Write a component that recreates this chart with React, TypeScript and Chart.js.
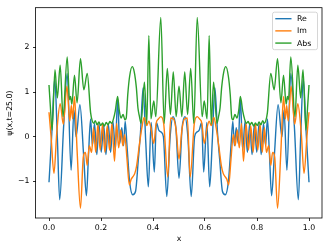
import React, { useEffect, useRef } from 'react';
import { Chart, registerables } from 'chart.js';

Chart.register(...registerables);

// Re(psi)
const reX = [0.000,0.011,0.022,0.032,0.041,0.056,0.070,0.085,0.096,0.104,0.119,0.133,0.144,0.152,0.160,0.167,0.175,0.184,0.192,0.201,0.210,0.219,0.228,0.237,0.246,0.255,0.264,0.272,0.280,0.287,0.293,0.300,0.310,0.322,0.333,0.343,0.352,0.362,0.372,0.382,0.393,0.405,0.413,0.422,0.432,0.440,0.453,0.466,0.477,0.488,0.500,
  0.512,0.523,0.534,0.547,0.560,0.568,0.578,0.587,0.595,0.607,0.618,0.628,0.638,0.648,0.657,0.667,0.678,0.690,0.700,0.707,0.713,0.720,0.728,0.736,0.745,0.754,0.763,0.772,0.781,0.790,0.799,0.808,0.816,0.825,0.833,0.840,0.848,0.856,0.867,0.881,0.896,0.904,0.915,0.930,0.944,0.959,0.968,0.978,0.989,1.000];
const reY = [-1.02,0.10,1.30,0.00,-1.41,0.20,1.42,-0.75,0.60,0.00,0.72,-0.40,-1.32,-0.40,0.40,-0.20,0.30,-0.40,0.30,-0.35,0.28,-0.40,0.30,-0.35,0.35,-0.30,0.85,-0.15,0.20,-0.20,0.35,-0.20,-1.00,-1.30,-1.22,-0.55,0.10,1.10,-0.10,-1.12,0.32,-0.79,0.32,0.15,0.10,0.00,-1.34,0.00,0.45,0.20,-0.93,
  0.20,0.45,0.00,-1.34,0.00,0.10,0.15,0.32,-0.79,0.32,-1.12,-0.10,1.10,0.10,-0.55,-1.22,-1.30,-1.00,-0.20,0.35,-0.20,0.20,-0.15,0.85,-0.30,0.35,-0.35,0.30,-0.40,0.28,-0.35,0.30,-0.40,0.30,-0.20,0.40,-0.40,-1.32,-0.40,0.72,0.00,0.60,-0.75,1.42,0.20,-1.41,0.00,1.30,0.10,-1.02];

// Im(psi)
const imX = [0.000,0.008,0.019,0.030,0.043,0.055,0.069,0.080,0.086,0.091,0.098,0.108,0.121,0.132,0.140,0.147,0.155,0.164,0.171,0.180,0.188,0.197,0.206,0.215,0.224,0.233,0.242,0.252,0.260,0.268,0.276,0.284,0.291,0.300,0.309,0.316,0.322,0.330,0.337,0.348,0.357,0.366,0.376,0.384,0.392,0.403,0.412,0.421,0.430,0.441,0.457,0.468,0.479,0.489,0.500,
  0.511,0.521,0.532,0.543,0.559,0.570,0.579,0.588,0.597,0.608,0.616,0.624,0.634,0.643,0.652,0.663,0.670,0.678,0.684,0.691,0.700,0.709,0.716,0.724,0.732,0.740,0.748,0.758,0.767,0.776,0.785,0.794,0.803,0.812,0.820,0.829,0.836,0.845,0.853,0.860,0.868,0.879,0.892,0.902,0.909,0.914,0.920,0.931,0.945,0.957,0.970,0.981,0.992,1.000];
const imY = [0.55,0.00,-0.82,0.10,0.74,0.28,1.13,0.35,0.70,0.40,0.90,-0.30,-1.60,-0.45,-0.35,-0.64,-0.20,-0.35,0.20,-0.35,0.28,-0.30,0.28,-0.35,0.25,-0.30,0.30,-0.55,0.30,-0.25,0.15,-0.20,0.05,-0.50,-1.08,-0.95,-0.90,-0.82,-0.65,-0.16,0.20,0.43,0.25,0.35,0.20,-0.15,0.30,0.40,0.45,0.30,-0.90,0.42,0.40,0.15,-0.50,
  0.15,0.40,0.42,-0.90,0.30,0.45,0.40,0.30,-0.15,0.20,0.35,0.25,0.43,0.20,-0.16,-0.65,-0.82,-0.90,-0.95,-1.08,-0.50,0.05,-0.20,0.15,-0.25,0.30,-0.55,0.30,-0.30,0.25,-0.35,0.28,-0.30,0.28,-0.35,0.20,-0.35,-0.20,-0.64,-0.35,-0.45,-1.60,-0.30,0.90,0.40,0.70,0.35,1.13,0.28,0.74,0.10,-0.82,0.00,0.55];

// |psi|
const absX = [0.000,0.005,0.012,0.023,0.032,0.043,0.054,0.070,0.079,0.083,0.088,0.098,0.108,0.121,0.134,0.147,0.160,0.166,0.172,0.178,0.185,0.192,0.199,0.206,0.213,0.220,0.227,0.234,0.241,0.248,0.255,0.264,0.270,0.277,0.285,0.292,0.297,0.303,0.310,0.320,0.328,0.336,0.342,0.348,0.354,0.367,0.376,0.384,0.392,0.403,0.411,0.430,0.443,0.455,0.467,0.478,0.489,0.500,
  0.511,0.522,0.533,0.545,0.557,0.570,0.589,0.597,0.608,0.616,0.624,0.633,0.646,0.652,0.658,0.664,0.672,0.680,0.690,0.697,0.703,0.708,0.715,0.723,0.730,0.736,0.745,0.752,0.759,0.766,0.773,0.780,0.787,0.794,0.801,0.808,0.815,0.822,0.828,0.834,0.840,0.853,0.866,0.879,0.892,0.902,0.912,0.917,0.921,0.930,0.946,0.957,0.968,0.977,0.988,0.995,1.000];
const absY = [1.16,0.70,0.15,1.50,0.87,1.60,0.45,1.79,0.83,0.90,0.73,1.38,0.76,1.75,1.05,1.42,0.54,0.36,0.30,0.36,0.27,0.33,0.25,0.31,0.24,0.32,0.27,0.34,0.30,0.40,0.58,0.90,0.60,0.42,0.50,0.38,0.42,0.95,1.35,1.57,1.45,1.10,0.65,0.45,0.30,1.22,0.28,2.27,0.40,0.80,0.45,2.67,0.30,1.53,0.50,1.45,0.45,1.13,
  0.45,1.45,0.50,1.53,0.30,2.67,0.45,0.80,0.40,2.27,0.28,1.22,0.30,0.45,0.65,1.10,1.45,1.57,1.35,0.95,0.42,0.38,0.50,0.42,0.60,0.90,0.58,0.40,0.30,0.34,0.27,0.32,0.24,0.31,0.25,0.33,0.27,0.36,0.30,0.36,0.54,1.42,1.05,1.75,0.76,1.38,0.73,0.90,0.83,1.79,0.45,1.60,0.87,1.50,0.15,0.70,1.16];

const seriesNames = ['Re', 'Im', 'Abs'];
const seriesColors = ['#1f77b4', '#ff7f0e', '#2ca02c'];
const xTicks = [0.0, 0.2, 0.4, 0.6, 0.8, 1.0];
const yTicks = [-1, 0, 1, 2];
const xLabel = 'x';
const yLabel = 'ψ(x,t=25.0)';

const FONT = '"DejaVu Sans", sans-serif';
const FS = 7.8;

const frameLegend = {
  id: 'frameLegend',
  afterDraw(chart: any) {
    const { ctx, chartArea: a } = chart;
    ctx.save();
    ctx.strokeStyle = '#000';
    ctx.lineWidth = 0.8;
    ctx.strokeRect(a.left - 0.5, a.top - 0.5, a.right - a.left + 0.5, a.bottom - a.top + 0.5);

    const w = 45, h = 37.5;
    const bx = a.right - 4.5 - w;
    const by = a.top + 4;
    const r = 2;
    ctx.beginPath();
    ctx.moveTo(bx + r, by);
    ctx.lineTo(bx + w - r, by);
    ctx.quadraticCurveTo(bx + w, by, bx + w, by + r);
    ctx.lineTo(bx + w, by + h - r);
    ctx.quadraticCurveTo(bx + w, by + h, bx + w - r, by + h);
    ctx.lineTo(bx + r, by + h);
    ctx.quadraticCurveTo(bx, by + h, bx, by + h - r);
    ctx.lineTo(bx, by + r);
    ctx.quadraticCurveTo(bx, by, bx + r, by);
    ctx.closePath();
    ctx.fillStyle = 'rgba(255,255,255,0.8)';
    ctx.fill();
    ctx.strokeStyle = '#cccccc';
    ctx.lineWidth = 0.8;
    ctx.stroke();

    ctx.font = `${FS}px ${FONT}`;
    ctx.textBaseline = 'middle';
    ctx.textAlign = 'left';
    seriesNames.forEach((name, i) => {
      const y = by + 6.5 + i * 12.2;
      ctx.strokeStyle = seriesColors[i];
      ctx.lineWidth = 1.4;
      ctx.beginPath();
      ctx.moveTo(bx + 2.8, y);
      ctx.lineTo(bx + 19, y);
      ctx.stroke();
      ctx.fillStyle = '#000';
      ctx.fillText(name, bx + 24.5, y + 0.5);
    });
    ctx.restore();
  },
};

export default function App() {
  const ref = useRef<HTMLCanvasElement | null>(null);

  useEffect(() => {
    if (!ref.current) return;
    const mk = (xs: number[], ys: number[]) => xs.map((x, i) => ({ x, y: ys[i] }));
    const chart = new Chart(ref.current, {
      type: 'line',
      data: {
        datasets: [
          { label: seriesNames[0], data: mk(reX, reY), borderColor: seriesColors[0], order: 3 },
          { label: seriesNames[1], data: mk(imX, imY), borderColor: seriesColors[1], order: 2 },
          { label: seriesNames[2], data: mk(absX, absY), borderColor: seriesColors[2], order: 1 },
        ].map((d) => ({
          ...d,
          borderWidth: 1.4,
          pointRadius: 0,
          fill: false,
          cubicInterpolationMode: 'monotone' as const,
        })),
      },
      options: {
        animation: false,
        responsive: false,
        devicePixelRatio: 1,
        layout: { padding: { left: 0, right: 5, top: 5, bottom: 0 } },
        plugins: { legend: { display: false }, tooltip: { enabled: false } },
        scales: {
          x: {
            type: 'linear',
            min: -0.05,
            max: 1.05,
            afterBuildTicks: (s: any) => { s.ticks = xTicks.map((v) => ({ value: v })); },
            afterFit: (s: any) => { s.height = 31; },
            ticks: {
              callback: (v: any) => Number(v).toFixed(1),
              color: '#000',
              font: { family: FONT, size: FS },
              padding: 2,
              maxRotation: 0,
              autoSkip: false,
            },
            grid: { drawOnChartArea: false, drawTicks: true, tickLength: 3, color: '#000', lineWidth: 0.8 },
            border: { display: false },
            title: { display: true, text: xLabel, color: '#000', font: { family: FONT, size: FS }, padding: { top: 0, bottom: 5.5 } },
          },
          y: {
            type: 'linear',
            min: -1.82,
            max: 2.88,
            afterBuildTicks: (s: any) => { s.ticks = yTicks.map((v) => ({ value: v })); },
            afterFit: (s: any) => { s.width = 36; },
            ticks: {
              callback: (v: any) => (Number(v) < 0 ? '\u2212' + Math.abs(Number(v)) : String(v)),
              color: '#000',
              font: { family: FONT, size: FS },
              padding: 3.5,
              autoSkip: false,
            },
            grid: { drawOnChartArea: false, drawTicks: true, tickLength: 3, color: '#000', lineWidth: 0.8 },
            border: { display: false },
            title: { display: true, text: yLabel, color: '#000', font: { family: FONT, size: FS }, padding: { top: 5.2, bottom: 0 } },
          },
        },
      },
      plugins: [frameLegend],
    });
    return () => chart.destroy();
  }, []);

  return (
    <div style={{ position: 'absolute', left: 0, top: 0, width: 327, height: 249, background: '#fff' }}>
      <canvas ref={ref} width={327} height={249} style={{ display: 'block' }} />
    </div>
  );
}
